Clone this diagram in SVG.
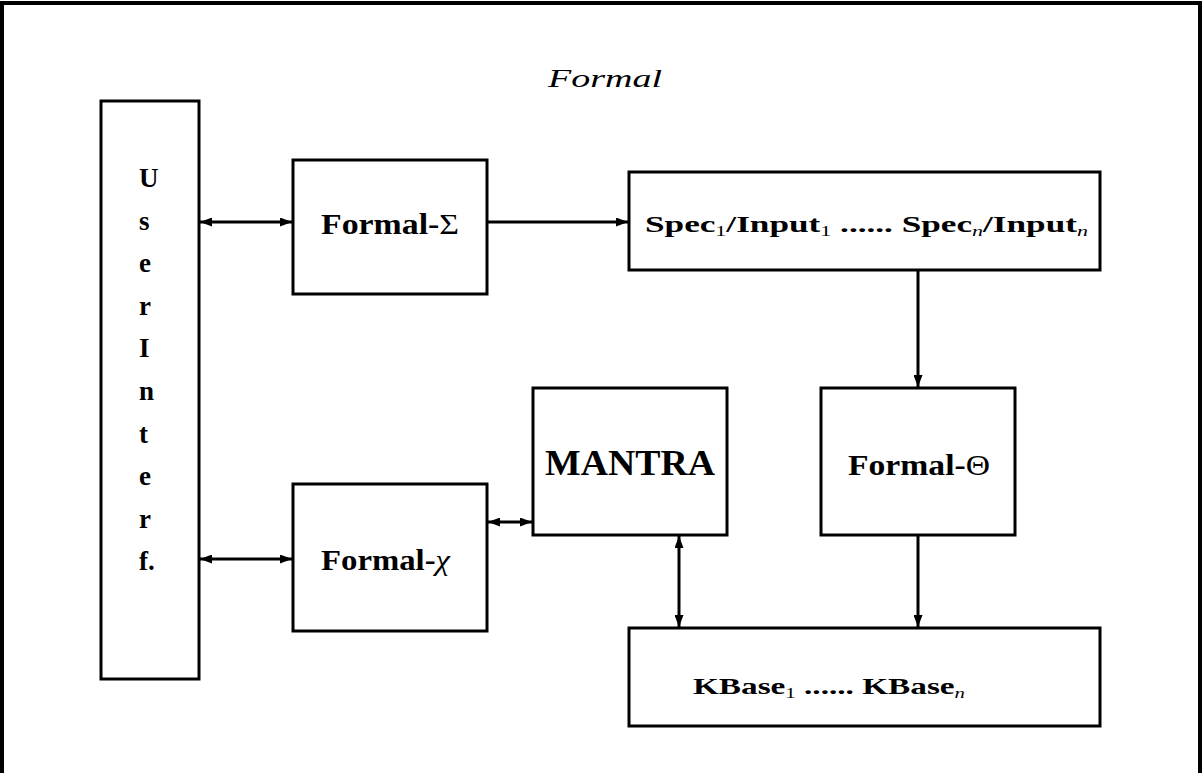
<svg xmlns="http://www.w3.org/2000/svg" width="1203" height="773" viewBox="0 0 1203 773">
<style>
.box{fill:#fff;stroke:#000;stroke-width:3}
.lbl{font-family:"Liberation Serif","DejaVu Serif",serif;font-weight:bold;fill:#000}
.sub{font-size:15px;font-weight:normal}
.it{font-style:italic;font-weight:normal}
.rm{font-weight:normal}
.c{stroke:#000;stroke-width:3;fill:none}
</style>
<defs>
<marker id="ah" viewBox="0 0 12 9" refX="12" refY="4.5" markerWidth="12" markerHeight="9" markerUnits="userSpaceOnUse" orient="auto-start-reverse">
<path d="M0,0 L12,4.5 L0,9 Z" fill="#000"/>
</marker>
</defs>
<rect x="0" y="0" width="1203" height="773" fill="#fff"/>
<path d="M2,773 V3 H1200 V773" fill="none" stroke="#000" stroke-width="4"/>
<text x="548" y="87" font-family="'Liberation Serif',serif" font-style="italic" font-size="26" textLength="114" lengthAdjust="spacingAndGlyphs">Formal</text>

<g id="connectors">
<line class="c" x1="200" y1="222" x2="292" y2="222" marker-start="url(#ah)" marker-end="url(#ah)"/>
<line class="c" x1="488" y1="222" x2="628" y2="222" marker-end="url(#ah)"/>
<line class="c" x1="918" y1="271" x2="918" y2="387" marker-end="url(#ah)"/>
<line class="c" x1="200" y1="559" x2="292" y2="559" marker-start="url(#ah)" marker-end="url(#ah)"/>
<line class="c" x1="488" y1="522" x2="532" y2="522" marker-start="url(#ah)" marker-end="url(#ah)"/>
<line class="c" x1="679" y1="536" x2="679" y2="627" marker-start="url(#ah)" marker-end="url(#ah)"/>
<line class="c" x1="918" y1="536" x2="918" y2="627" marker-end="url(#ah)"/>
</g>

<g id="userinterf">
<rect class="box" x="101" y="101" width="98" height="578"/>
<g class="lbl" font-size="27">
<text x="139" y="187">U</text>
<text x="139" y="230">s</text>
<text x="139" y="272">e</text>
<text x="139" y="315">r</text>
<text x="139" y="357">I</text>
<text x="139" y="400">n</text>
<text x="139" y="443">t</text>
<text x="139" y="485">e</text>
<text x="139" y="528">r</text>
<text x="139" y="570">f.</text>
</g>
</g>

<g id="formal-sigma">
<rect class="box" x="293" y="160" width="194" height="134"/>
<text class="lbl" x="321" y="234" font-size="29" textLength="138" lengthAdjust="spacingAndGlyphs">Formal-<tspan class="rm">Σ</tspan></text>
</g>

<g id="spec">
<rect class="box" x="629" y="172" width="471" height="98"/>
<text class="lbl" x="645" y="232" font-size="24" textLength="443" lengthAdjust="spacingAndGlyphs">Spec<tspan class="sub" dy="4">1</tspan><tspan dy="-4">/Input</tspan><tspan class="sub" dy="4">1</tspan><tspan dy="-4"> ...... Spec</tspan><tspan class="sub it" dy="4">n</tspan><tspan dy="-4">/Input</tspan><tspan class="sub it" dy="4">n</tspan></text>
</g>

<g id="mantra">
<rect class="box" x="533" y="388" width="194" height="147"/>
<text class="lbl" x="545" y="475" font-size="35" textLength="170" lengthAdjust="spacingAndGlyphs">MANTRA</text>
</g>

<g id="formal-theta">
<rect class="box" x="821" y="388" width="194" height="147"/>
<text class="lbl" x="848" y="475" font-size="29" textLength="142" lengthAdjust="spacingAndGlyphs">Formal-<tspan class="rm">Θ</tspan></text>
</g>

<g id="formal-chi">
<rect class="box" x="293" y="484" width="194" height="147"/>
<text class="lbl" x="321" y="570" font-size="29" textLength="129" lengthAdjust="spacingAndGlyphs">Formal-<tspan class="it">χ</tspan></text>
</g>

<g id="kbase">
<rect class="box" x="629" y="628" width="471" height="98"/>
<text class="lbl" x="693" y="694" font-size="24" textLength="272" lengthAdjust="spacingAndGlyphs">KBase<tspan class="sub" dy="4">1</tspan><tspan dy="-4"> ...... KBase</tspan><tspan class="sub it" dy="4">n</tspan></text>
</g>
</svg>
